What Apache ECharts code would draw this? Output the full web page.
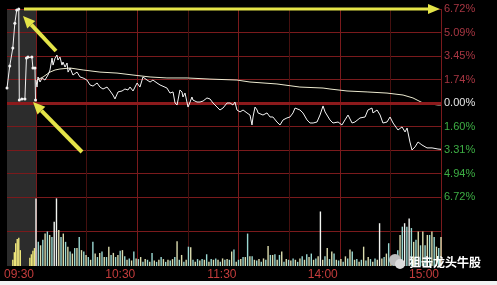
<!DOCTYPE html>
<html><head><meta charset="utf-8">
<script src="https://cdn.jsdelivr.net/npm/echarts@6/dist/echarts.min.js"></script>
<style>html,body{margin:0;padding:0;background:#000;}#c{width:497px;height:285px;}</style>
</head><body><div id="c"></div>
<script>
// ---- tick labels ----
const priceTickLabels = ['6.72%','4.94%','3.31%','1.60%','0.00%','1.74%','3.45%','5.09%','6.72%'];
const timeTickLabels = {0:'09:30',60:'10:30',120:'11:30',180:'14:00',240:'15:00'};

// ---- pre-open (call auction), minutes before 09:30 and % change ----
const preTimes = [-17,-15.4,-13.6,-12.4,-11.3,-10.1,-9.8,-8.3,-6.5,-5.6,-4.7,-2.4,-1.8,-0.6,-0.3];
const prePrice = [1.07,2.64,3.93,5.71,6.64,6.72,0.21,0.29,0.29,3.21,3.29,3.29,2.5,2.5,0.21];
const preVolTimes = [-13.6,-12.7,-11.9,-11.0,-10.1,-9.2,-3.6,-2.7,-1.8,-0.9];
const preVolValues = [9,20,33,39,41,23,12,17,22,26];

// ---- intraday price (% change), minutes after 09:30 (trading minutes) ----
const priceTimes = [0,0.6,1.2,2.4,3.6,5.3,7.1,8.3,9.5,10.1,11.3,12.4,13.0,14.2,15.4,16.0,17.2,18.4,19.0,20.2,21.9,24.3,26.1,27.9,30.2,32.0,33.8,36.2,37.9,39.7,42.1,43.9,45.6,46.8,48.6,51.0,52.7,54.5,55.7,57.5,59.9,61.6,63.4,65.8,67.6,69.3,71.7,73.5,77.6,79.4,81.2,82.4,83.6,85.3,86.5,87.1,88.3,90.1,91.3,92.4,93.0,95.4,97.2,99.0,101.3,103.1,104.9,107.3,109.0,110.8,113.2,115.0,116.7,117.9,119.1,120.9,122.7,125.0,126.8,128.0,128.6,129.8,131.0,131.6,132.7,134.5,136.9,138.7,140.4,142.8,144.6,146.4,148.7,150.5,152.3,153.5,156.4,158.2,160.6,162.4,164.2,166.5,168.3,170.1,171.3,172.4,174.2,176.0,179.0,181.3,183.1,184.9,187.3,189.0,192.0,195.0,196.7,199.1,199.7,202.1,203.9,205.6,208.0,209.8,211.6,214.5,216.9,218.7,219.9,221.6,222.8,224.6,226.4,228.7,231.7,234.7,238.2,240];
const priceValues = [1.64,1.14,1.86,1.5,1.79,1.64,2.0,2.36,3.21,2.71,3.21,3.43,3.07,3.29,2.71,2.93,2.57,2.86,2.21,2.5,2.0,2.21,1.86,1.79,1.64,1.29,1.21,1.43,1.14,1.0,1.14,0.86,0.57,0.29,0.79,0.86,1.0,0.93,1.14,0.86,1.43,1.14,1.86,1.64,1.5,1.64,1.43,1.29,1.07,0.71,0.79,0.0,-0.14,0.93,0.79,0.43,0.71,-0.29,0.07,0.43,0.21,0.07,0.07,0.14,0.36,0.29,0.0,-0.29,-0.5,-0.36,0.0,0.0,-0.14,0.07,-0.5,-0.64,-0.5,-0.71,-0.86,-1.57,-1.0,-0.29,-0.5,-0.71,-0.64,-0.86,-0.71,-1.0,-1.0,-1.36,-1.57,-1.21,-1.07,-1.0,-0.71,-0.36,-0.5,-0.71,-1.21,-1.43,-1.43,-1.36,-0.86,-0.21,-0.64,-0.71,-1.21,-1.43,-1.36,-1.57,-1.21,-0.86,-1.43,-1.36,-1.07,-1.0,-0.5,-0.36,-0.71,-0.5,-0.86,-1.43,-1.36,-1.0,-1.43,-1.93,-1.71,-2.07,-1.79,-2.79,-3.36,-3.14,-2.79,-3.0,-3.21,-3.21,-3.29,-3.31];

// ---- average price (% change) ----
const avgTimes = [0.6,4.2,8.3,11.3,14.2,20.2,27.9,37.9,48.0,57.5,67.6,77.6,89.5,103.1,119.1,126.8,142.8,156.4,170.1,174.2,184.3,196.2,208.0,217.5,223.4,229.3,238.2,240];
const avgValues = [1.64,1.86,2.21,2.36,2.43,2.5,2.36,2.21,2.14,2.0,1.86,1.79,1.79,1.71,1.64,1.5,1.36,1.14,1.07,1.0,0.86,0.79,0.71,0.57,0.36,0.0,-0.14,-0.14];

// ---- intraday volume (relative), evenly spaced from 09:30 to 15:00 ----
const volValues = [98,35,30,38,47,50,45,42,64,98,52,42,47,35,28,21,18,26,26,42,23,21,16,13,9,35,18,13,19,21,13,13,28,16,19,13,16,22,23,14,9,11,8,21,11,10,13,6,10,9,6,19,8,6,9,13,10,6,9,8,10,13,36,9,16,6,9,28,27,9,6,10,8,10,9,17,6,10,9,11,9,6,11,9,10,9,21,24,6,9,10,13,
13,47,14,14,9,8,10,6,11,9,29,16,16,17,9,16,21,6,10,9,8,11,9,6,11,14,9,17,13,18,9,11,14,79,9,14,26,10,21,18,9,8,10,6,14,11,24,21,9,10,6,9,28,8,13,10,6,11,9,62,11,13,18,33,13,9,16,23,45,57,62,57,69,55,35,38,50,30,50,30,45,45,50,42,28,26,42];

const GRID_RED = '#7a1a1c';
const DIM_RED = '#45100f';
const ZERO_RED = '#8c1a1c';
const FONT = 'Liberation Sans, Arial, sans-serif';

const pre = preTimes.map((t,i)=>[t, prePrice[i]]);
const price = priceTimes.map((t,i)=>[t, priceValues[i]]);
const avg = avgTimes.map((t,i)=>[t, avgValues[i]]);
const preVol = preVolTimes.map((t,i)=>[t, preVolValues[i]]);
const vol = volValues.map((v,i)=>[i*240/(volValues.length-1), v]);

const zeroMark = {
  silent:true, symbol:['none','none'], label:{show:false},
  lineStyle:{color:ZERO_RED, width:3, type:'solid'},
  data:[{yAxis:0}], animation:false
};

const priceY = (gi, showLabels) => ({
  gridIndex:gi, type:'value', min:-6.72, max:6.72, interval:1.68,
  position:'right',
  axisLine:{show:false}, axisTick:{show:false},
  splitLine:{show:true, lineStyle:{color:GRID_RED, width:1}},
  axisLabel:{
    show:showLabels, margin:3, fontSize:11, fontFamily:FONT,
    formatter:(v)=>priceTickLabels[Math.round((v+6.72)/1.68)],
    color:(v)=>{const x=parseFloat(v); return Math.abs(x)<0.01?'#e6e6e6':(x>0?'#a83642':'#3dae44');}
  }
});
const volY = (gi) => ({
  gridIndex:gi, type:'value', min:0, max:100, interval:50,
  axisLine:{show:false}, axisTick:{show:false}, axisLabel:{show:false},
  splitLine:{show:true, showMinLine:false, lineStyle:{color:GRID_RED, width:1}}
});
const mainX = (gi, labels) => ({
  gridIndex:gi, type:'value', min:0, max:240, interval:30,
  axisLine:{show:false}, axisTick:{show:false},
  splitLine:{show:true, lineStyle:{color:[GRID_RED, DIM_RED], width:1}},
  axisLabel:{
    show:labels, align:'right', margin:3, padding:[0,2,0,0], fontSize:12, fontFamily:FONT,
    color:'#c43c3c', showMinLabel:true, showMaxLabel:true,
    formatter:(v)=>timeTickLabels[v]||''
  }
});
const preX = (gi) => ({gridIndex:gi, type:'value', min:-17, max:0, show:false});

function arrow(x1,y1,x2,y2,w,headLen,headHalf,color){
  const dx=x2-x1, dy=y2-y1, L=Math.hypot(dx,dy), ux=dx/L, uy=dy/L;
  const bx=x2-ux*headLen, by=y2-uy*headLen, px=-uy, py=ux;
  return [
    {type:'line', z:100, shape:{x1:x1,y1:y1,x2:bx,y2:by}, style:{stroke:color, lineWidth:w}},
    {type:'polygon', z:100, shape:{points:[[x2,y2],[bx+px*headHalf,by+py*headHalf],[bx-px*headHalf,by-py*headHalf]]}, style:{fill:color}}
  ];
}
const YEL = '#e4e448';

const chart = echarts.init(document.getElementById('c'), null, {renderer:'canvas'});
chart.setOption({
  backgroundColor:'#000000',
  animation:false,
  grid:[
    {left:7, top:9, width:29, height:188, show:true, backgroundColor:'#2c2c2c', borderWidth:0},
    {left:36, top:9, width:405, height:188},
    {left:7, top:197, width:29, height:69, show:true, backgroundColor:'#2c2c2c', borderWidth:0},
    {left:36, top:197, width:405, height:69}
  ],
  xAxis:[preX(0), mainX(1,false), preX(2), mainX(3,true)],
  yAxis:[priceY(0,false), priceY(1,true), volY(2), volY(3)],
  series:[
    {type:'line', xAxisIndex:0, yAxisIndex:0, data:pre, symbol:'circle', symbolSize:3,
     itemStyle:{color:'#f2f2f2'}, lineStyle:{color:'#f2f2f2', width:1}, markLine:zeroMark, z:5},
    {type:'line', xAxisIndex:1, yAxisIndex:1, data:avg, symbol:'none',
     lineStyle:{color:'#ecead0', width:1}, markLine:zeroMark, z:4},
    {type:'line', xAxisIndex:1, yAxisIndex:1, data:price, symbol:'none',
     lineStyle:{color:'#f4f4f4', width:1}, z:5},
    {type:'bar', xAxisIndex:2, yAxisIndex:2, data:preVol, barWidth:1.4,
     itemStyle:{color:'#ece47a'}},
    {type:'bar', xAxisIndex:3, yAxisIndex:3, data:vol, barWidth:1.4,
     itemStyle:{color:(p)=>{const v=p.value[1]; if(v>=60) return '#f2f4f0'; return p.dataIndex%2?'#9ad8d2':'#dcdcae';}}}
  ],
  graphic:[
    ...arrow(24,9,440,9,3,12,5,YEL),
    ...arrow(56,51,23,16,4,12,5.5,YEL),
    ...arrow(82,152,33,102,4,12,5.5,YEL),
    {type:'circle', z:100, shape:{cx:395,cy:260,r:6}, style:{fill:'#bdbdbd'}},
    {type:'circle', z:101, shape:{cx:400,cy:264,r:5}, style:{fill:'#dcdcdc'}},
    {type:'text', z:102, x:409, y:262, style:{text:'狙击龙头牛股', fill:'#ffffff', font:'bold 12px "Noto Sans CJK SC", sans-serif', verticalAlign:'middle', shadowColor:'rgba(0,0,0,0.8)', shadowBlur:2}},
    {type:'rect', z:100, shape:{x:0,y:281,width:497,height:4}, style:{fill:'#f2f2f2'}}
  ]
});
</script></body></html>
